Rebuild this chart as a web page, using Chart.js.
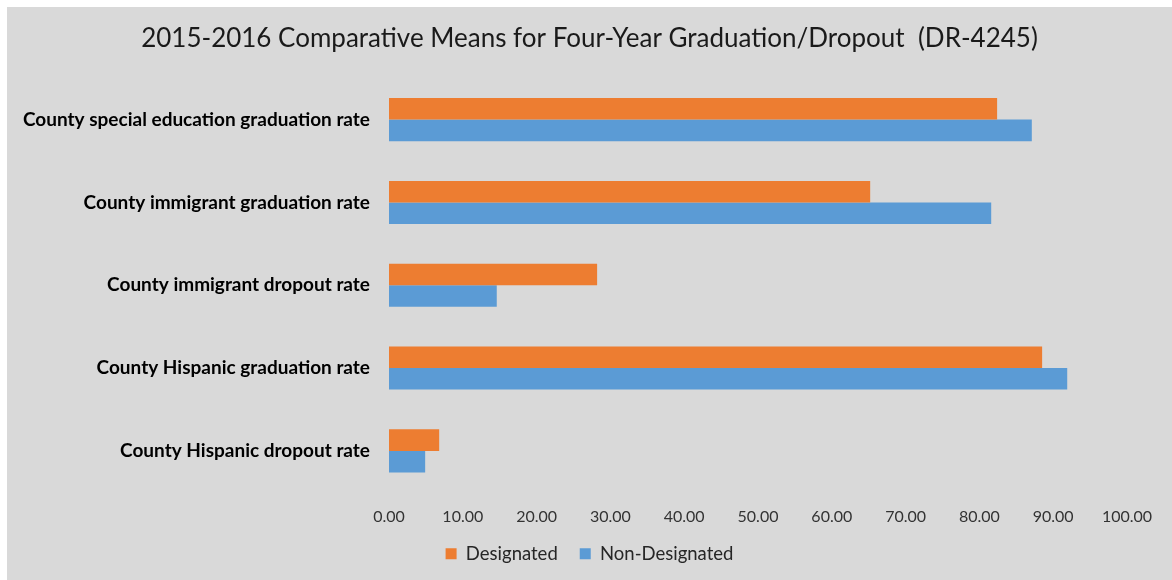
<!DOCTYPE html>
<html>
<head>
<meta charset="utf-8">
<script src="https://cdn.jsdelivr.net/npm/chart.js@4/dist/chart.umd.min.js"></script>
<style>
  html, body { margin: 0; padding: 0; background: #ffffff; }
  #wrap { position: absolute; left: 7px; top: 7px; width: 1165px; height: 573px; background: #d9d9d9; }
</style>
</head>
<body>
<div id="wrap"><canvas id="chart" width="1165" height="573"></canvas></div>
<script>
const categories = [
  "County special education graduation rate",
  "County immigrant graduation rate",
  "County immigrant dropout rate",
  "County Hispanic graduation rate",
  "County Hispanic dropout rate",
];
const designated = [82.4, 65.2, 28.2, 88.5, 6.8];
const nonDesignated = [87.1, 81.6, 14.6, 91.9, 4.9];
const xTicks = [0, 10, 20, 30, 40, 50, 60, 70, 80, 90, 100];

const FONT = "Lato, 'Open Sans', sans-serif";
const ORANGE = "#ed7d31";
const BLUE = "#5b9bd5";

const chart = new Chart(document.getElementById("chart"), {
  type: "bar",
  data: {
    labels: categories,
    datasets: [
      { label: "Designated", data: designated, backgroundColor: ORANGE },
      { label: "Non-Designated", data: nonDesignated, backgroundColor: BLUE },
    ],
  },
  options: {
    indexAxis: "y",
    responsive: false,
    animation: false,
    layout: { padding: { left: 0, right: 0, top: 8, bottom: 7 } },
    datasets: { bar: { barPercentage: 1, categoryPercentage: 0.52 } },
    plugins: {
      title: {
        display: true,
        text: "2015-2016 Comparative Means for Four-Year Graduation/Dropout  (DR-4245)",
        color: "#1a1a1a",
        font: { family: FONT, size: 26, weight: "normal" },
        padding: { top: 8, bottom: 24 },
      },
      legend: {
        position: "bottom",
        labels: {
          color: "#262626",
          font: { family: FONT, size: 18.5 },
          boxWidth: 11,
          boxHeight: 11,
          padding: 22,
        },
      },
      tooltip: { enabled: false },
    },
    scales: {
      x: {
        min: 0,
        max: 100,
        afterBuildTicks: (axis) => { axis.ticks = xTicks.map((v) => ({ value: v })); },
        // the legend padding also adds space above it; take that back here
        afterFit: (axis) => { axis.height -= 19; },
        ticks: {
          color: "#333333",
          font: { family: FONT, size: 16 },
          padding: 15,
          callback: (v) => Number(v).toFixed(2),
        },
        grid: { display: false, drawTicks: false },
        border: { display: false },
      },
      y: {
        afterFit: (axis) => { axis.width = 382; },
        ticks: {
          color: "#000000",
          font: { family: FONT, size: 19, weight: "bold" },
          padding: 19,
        },
        grid: { display: false, drawTicks: false },
        border: { display: false },
      },
      // empty right-hand axis: reserves the margin so the title stays centred
      yRight: {
        type: "category",
        position: "right",
        display: true,
        afterFit: (axis) => { axis.width = 45; },
        ticks: { display: false },
        grid: { display: false, drawTicks: false },
        border: { display: false },
      },
    },
  },
});
</script>
</body>
</html>
